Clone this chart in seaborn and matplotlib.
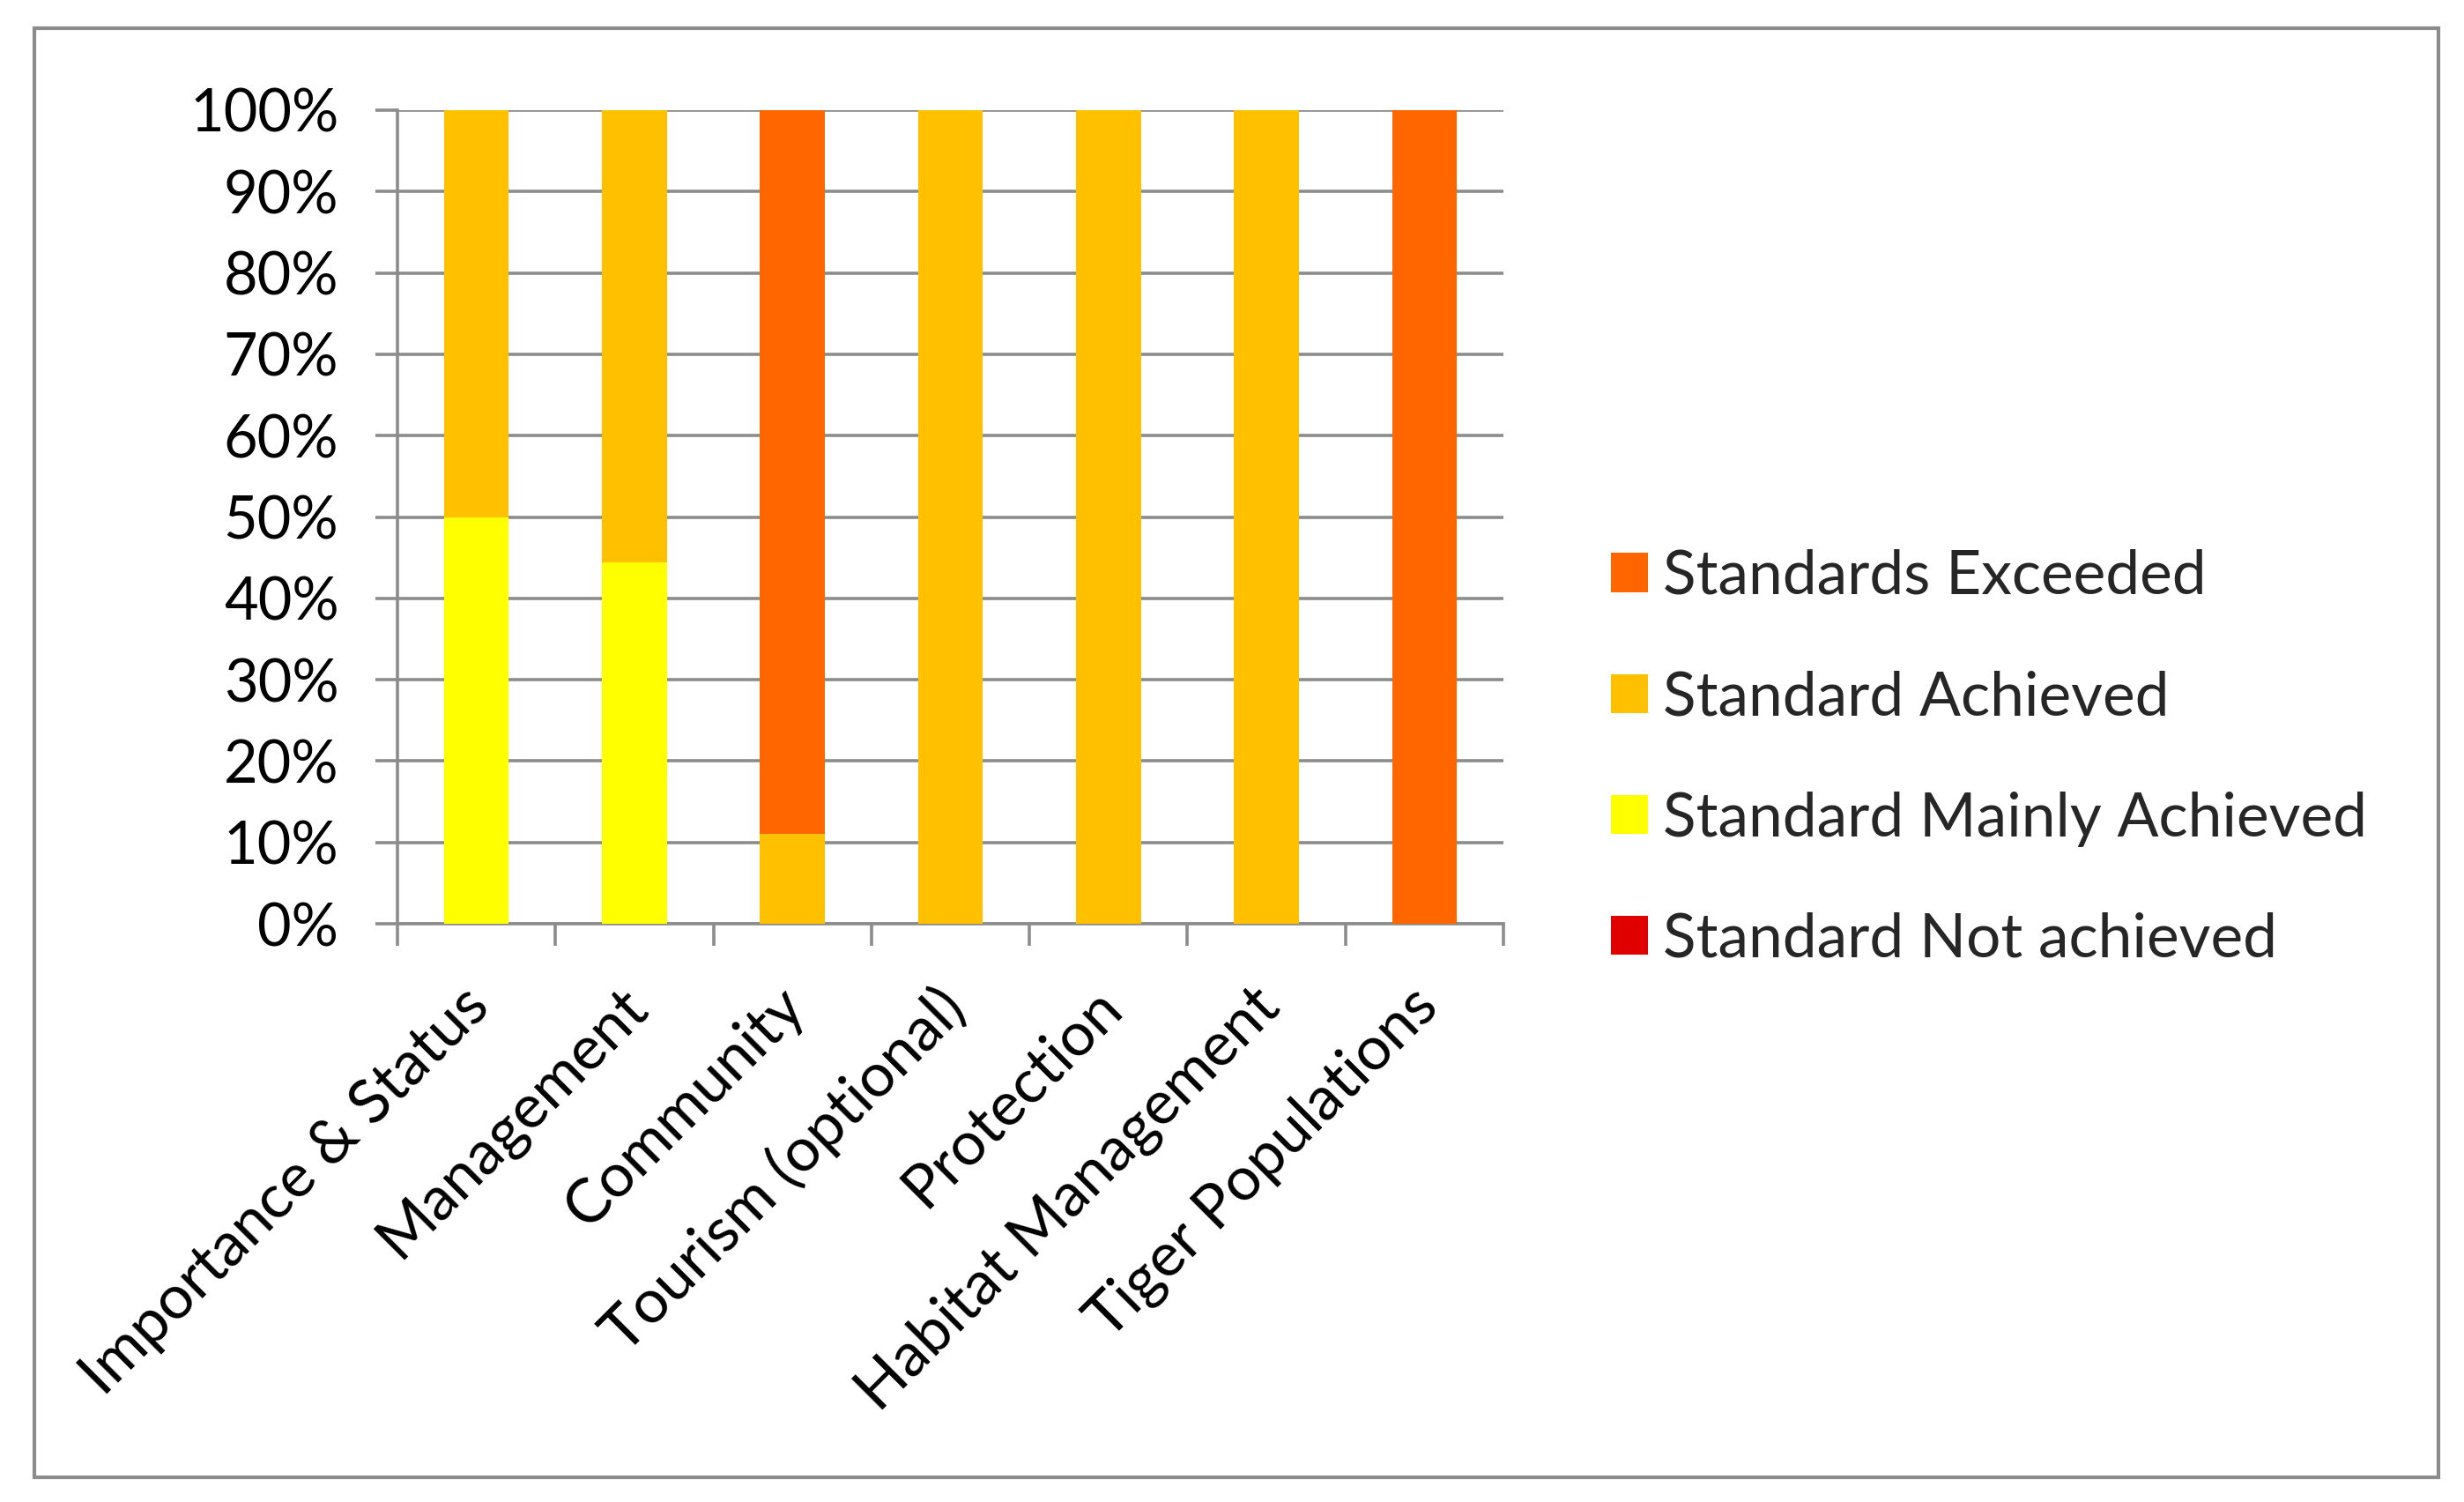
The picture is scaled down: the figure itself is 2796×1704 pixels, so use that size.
import matplotlib
matplotlib.use("Agg")
import matplotlib.pyplot as plt
import matplotlib.transforms as mtransforms
import seaborn as sns
import numpy as np
import pandas as pd
from matplotlib.patches import Rectangle

categories = ["Importance & Status", "Management", "Community", "Tourism (optional)",
              "Protection", "Habitat Management", "Tiger Populations"]
not_achieved = [0, 0, 0, 0, 0, 0, 0]
mainly_achieved = [50.0, 44.4, 0, 0, 0, 0, 0]
achieved = [50.0, 55.6, 11.1, 100, 100, 100, 0]
exceeded = [0, 0, 88.9, 0, 0, 0, 100]

series_names = ["Standard Not achieved", "Standard Mainly Achieved", "Standard Achieved", "Standards Exceeded"]
series_vals = [not_achieved, mainly_achieved, achieved, exceeded]
series_colors = ["#E00000", "#FFFF00", "#FFC000", "#FF6600"]
yticks = list(range(0, 101, 10))
ytick_labels = [f"{v}%" for v in yticks]

sns.set_theme(style="white")
plt.rcParams['font.family'] = ['Lato', 'DejaVu Sans']

fig = plt.figure(figsize=(13.98, 8.52), dpi=200)
ax = fig.add_axes([451/2796, 1 - 1048/1704, (1706-451)/2796, (1048-125)/1704])

cum = np.zeros(len(categories))
for name, vals, col in zip(series_names, series_vals, series_colors):
    vals = np.array(vals, dtype=float)
    sns.barplot(x=categories, y=vals, bottom=cum, color=col, width=0.41,
                ax=ax, label=name, linewidth=0, saturation=1, zorder=3)
    cum = cum + vals

grid_col = "#8c8c8c"
ax.set_ylim(0, 100)
ax.set_xlim(-0.5, 6.5)
ax.set_yticks(yticks)
ax.set_yticklabels(ytick_labels)
ax.yaxis.grid(True, color=grid_col, linewidth=1.3, zorder=0)
ax.set_axisbelow(True)
for s in ["top", "right"]:
    ax.spines[s].set_visible(False)
for s in ["left", "bottom"]:
    ax.spines[s].set_color(grid_col)
    ax.spines[s].set_linewidth(1.3)

ax.set_xticks(range(len(categories)))
ax.set_xticklabels(categories, rotation=45, ha="right", rotation_mode="anchor")
ax.set_xticks(np.arange(-0.5, 7, 1), minor=True)
ax.tick_params(axis="x", which="major", length=0, pad=22, labelsize=25, colors="black")
ax.tick_params(axis="x", which="minor", length=9, width=1.3, color=grid_col, bottom=True)
ax.tick_params(axis="y", which="major", length=9, width=1.3, color=grid_col, left=True,
               labelsize=24, labelcolor="black", pad=15)
ax.set_xlabel("")
ax.set_ylabel("")

offset = mtransforms.ScaledTranslation(-0.09, 0, fig.dpi_scale_trans)
for lab in ax.get_xticklabels():
    lab.set_transform(lab.get_transform() + offset)

handles, labels = ax.get_legend_handles_labels()
order = [3, 2, 1, 0]
ax.legend([handles[i] for i in order], [labels[i] for i in order],
          loc="upper left", bbox_to_anchor=(1828/2796, 1 - 623/1704),
          bbox_transform=fig.transFigure, frameon=False, fontsize=25,
          handlelength=0.6, handleheight=0.6, handletextpad=0.25,
          labelspacing=1.07, borderpad=0, borderaxespad=0)

fig.patches.append(Rectangle((39/2796, 1 - 1676/1704), (2767-39)/2796, (1676-32)/1704,
                             transform=fig.transFigure, fill=False,
                             edgecolor="#8c8c8c", linewidth=1.5, zorder=10))

fig.savefig("out.png", dpi=200, facecolor="white")
